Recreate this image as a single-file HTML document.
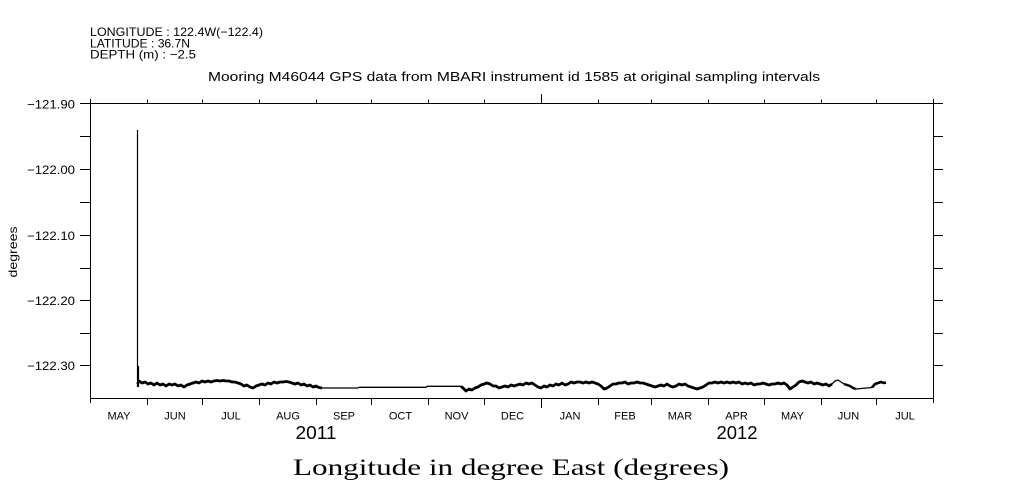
<!DOCTYPE html>
<html>
<head>
<meta charset="utf-8">
<style>
  html, body { margin: 0; padding: 0; background: #fff; }
  svg { display: block; }
  .s { font-family: "Liberation Sans", "DejaVu Sans", sans-serif; fill: #000; }
  .r { font-family: "Liberation Serif", "DejaVu Serif", serif; fill: #000; }
</style>
</head>
<body>
<svg width="1009" height="504" viewBox="0 0 1009 504" xmlns="http://www.w3.org/2000/svg">
  <rect x="0" y="0" width="1009" height="504" fill="#fff"/>

  <!-- header -->
  <text class="s" x="90" y="36" font-size="12" textLength="173" lengthAdjust="spacingAndGlyphs">LONGITUDE : 122.4W(−122.4)</text>
  <text class="s" x="90" y="47.5" font-size="12" textLength="100" lengthAdjust="spacingAndGlyphs">LATITUDE : 36.7N</text>
  <text class="s" x="90" y="58.5" font-size="12" textLength="106" lengthAdjust="spacingAndGlyphs">DEPTH (m) : −2.5</text>

  <!-- title -->
  <text class="s" x="208" y="81" font-size="13" textLength="612" lengthAdjust="spacingAndGlyphs">Mooring M46044 GPS data from MBARI instrument id 1585 at original sampling intervals</text>

  <!-- frame -->
  <g stroke="#000" stroke-width="1" fill="none" shape-rendering="crispEdges">
    <line x1="90.5" y1="99" x2="90.5" y2="403"/>
    <line x1="933.5" y1="99" x2="933.5" y2="403"/>
    <line x1="80" y1="103.5" x2="943" y2="103.5"/>
    <line x1="90" y1="398.5" x2="934" y2="398.5"/>

    <!-- y ticks left & right -->
    <path d="M80 136.5H90 M80 169.5H90 M80 202.5H90 M80 235.5H90 M80 268.5H90 M80 300.5H90 M80 333.5H90 M80 365.5H90"/>
    <path d="M933 136.5H943 M933 169.5H943 M933 202.5H943 M933 235.5H943 M933 268.5H943 M933 300.5H943 M933 333.5H943 M933 365.5H943"/>

    <!-- top ticks -->
    <path d="M147.5 99.5V103 M202.5 99.5V103 M259.5 99.5V103 M316.5 99.5V103 M371.5 99.5V103 M428.5 99.5V103 M484.5 99.5V103 M598.5 99.5V103 M651.5 99.5V103 M708.5 99.5V103 M764.5 99.5V103 M821.5 99.5V103 M876.5 99.5V103"/>
    <path d="M541.5 94V103"/>

    <!-- bottom ticks -->
    <path d="M147.5 399V405 M202.5 399V405 M259.5 399V405 M316.5 399V405 M371.5 399V405 M428.5 399V405 M484.5 399V405 M598.5 399V405 M651.5 399V405 M708.5 399V405 M764.5 399V405 M821.5 399V405 M876.5 399V405"/>
    <path d="M541.5 399V408"/>
  </g>

  <!-- y tick labels -->
  <g class="s" font-size="12" text-anchor="end">
    <text x="75" y="108.5" textLength="48" lengthAdjust="spacingAndGlyphs">−121.90</text>
    <text x="75" y="174" textLength="48" lengthAdjust="spacingAndGlyphs">−122.00</text>
    <text x="75" y="240" textLength="48" lengthAdjust="spacingAndGlyphs">−122.10</text>
    <text x="75" y="305" textLength="48" lengthAdjust="spacingAndGlyphs">−122.20</text>
    <text x="75" y="370" textLength="48" lengthAdjust="spacingAndGlyphs">−122.30</text>
  </g>

  <!-- y axis label -->
  <text class="s" font-size="12" text-anchor="middle" transform="translate(17,252) rotate(-90)" textLength="51" lengthAdjust="spacingAndGlyphs">degrees</text>

  <!-- month labels -->
  <g class="s" font-size="11" text-anchor="middle">
    <text x="119" y="419.5">MAY</text>
    <text x="175" y="419.5">JUN</text>
    <text x="231" y="419.5">JUL</text>
    <text x="288" y="419.5">AUG</text>
    <text x="344" y="419.5">SEP</text>
    <text x="400.5" y="419.5">OCT</text>
    <text x="456.5" y="419.5">NOV</text>
    <text x="512.5" y="419.5">DEC</text>
    <text x="570" y="419.5">JAN</text>
    <text x="625" y="419.5">FEB</text>
    <text x="680" y="419.5">MAR</text>
    <text x="736.5" y="419.5">APR</text>
    <text x="792.5" y="419.5">MAY</text>
    <text x="848.5" y="419.5">JUN</text>
    <text x="905" y="419.5">JUL</text>
  </g>

  <!-- years -->
  <text class="s" x="316" y="439" font-size="18" text-anchor="middle" textLength="41" lengthAdjust="spacingAndGlyphs">2011</text>
  <text class="s" x="737" y="439" font-size="18" text-anchor="middle" textLength="41" lengthAdjust="spacingAndGlyphs">2012</text>

  <!-- x axis title -->
  <text class="r" x="293" y="475" font-size="23" textLength="436" lengthAdjust="spacingAndGlyphs">Longitude in degree East (degrees)</text>

  <!-- data -->
  <g fill="none" stroke="#000" stroke-linejoin="round">
    <path d="M137.5 387V130 M138.5 387V366" stroke-width="1.2"/>
    <polyline stroke-width="2.8" points="137.5,384 139,381 142,383 145,382 148,384 151,383 154,385 157,383 160,385 163,384 166,386 169,384 172,385 175,384 178,386 181,385 184,387 187,385 190,384 193,383 196,382 199,383 202,381 205,382 208,381 211,382 214,381 217,380.5 220,381 223,380.5 226,381 229,381 232,382 235,382 238,383 241,384 244,386 247,385 250,387 253,388 256,386 259,385 262,384 265,385 268,383 271,384 274,382 277,383 280,382 283,382 286,381.5 289,382 292,383 295,384 298,383 301,385 304,384 307,386 310,385 313,387 316,386 319,387.5 322,388"/>
    <polyline stroke-width="1.3" points="322,388 358,388 359,387.3 426,387.3 427,386.3 461,386.3"/>
    <polyline stroke-width="2.8" points="461,386.3 463,388 466,391 469,389 472,390 475,388 478,387 481,385 484,384 487,383 490,384 493,386 496,386 499,388 502,387 505,386 508,387 511,385 514,386 517,385 520,384 523,385 526,383 529,384 532,383 535,385 538,387 541,388 544,386 547,387 550,385 553,386 556,384 559,385 562,383 565,385 568,384 571,382 574,383 577,382 580,382 583,383 586,382 589,383 592,382 595,383 598,384 601,386 604,389 607,388 610,386 613,384 616,384 619,383 622,383 625,382 628,384 631,383 634,383 637,382 640,383 643,383 646,384 649,385 652,386 655,387 658,386 661,385 664,386 667,384 670,386 673,387 676,386 679,384 682,385 685,384 688,386 691,387 694,388 697,389 700,388 703,387 706,385 709,383 712,383 715,382 718,383 721,382 724,383 727,382 730,383 733,382 736,383 739,382 742,384 745,383 748,384 751,383 754,385 757,384 760,384 763,383 766,384 769,385 772,384 775,384 778,383 781,384 784,383 787,385 790,389 793,387 796,385 799,382 802,381 805,382 808,383 811,382 814,384 817,383 820,384 823,385 826,384 829,386 832,384"/>
    <polyline stroke-width="1.3" points="832,384 835,381 838,380 841,382 844,384"/>
    <polyline stroke-width="2.4" points="844,384 847,385 850,386 853,388 856,389"/>
    <polyline stroke-width="1.3" points="856,389 872,387.5"/>
    <polyline stroke-width="2.6" points="872,387.5 875,384 878,383 881,382 884,383 886,382.5"/>
  </g>
</svg>
</body>
</html>
